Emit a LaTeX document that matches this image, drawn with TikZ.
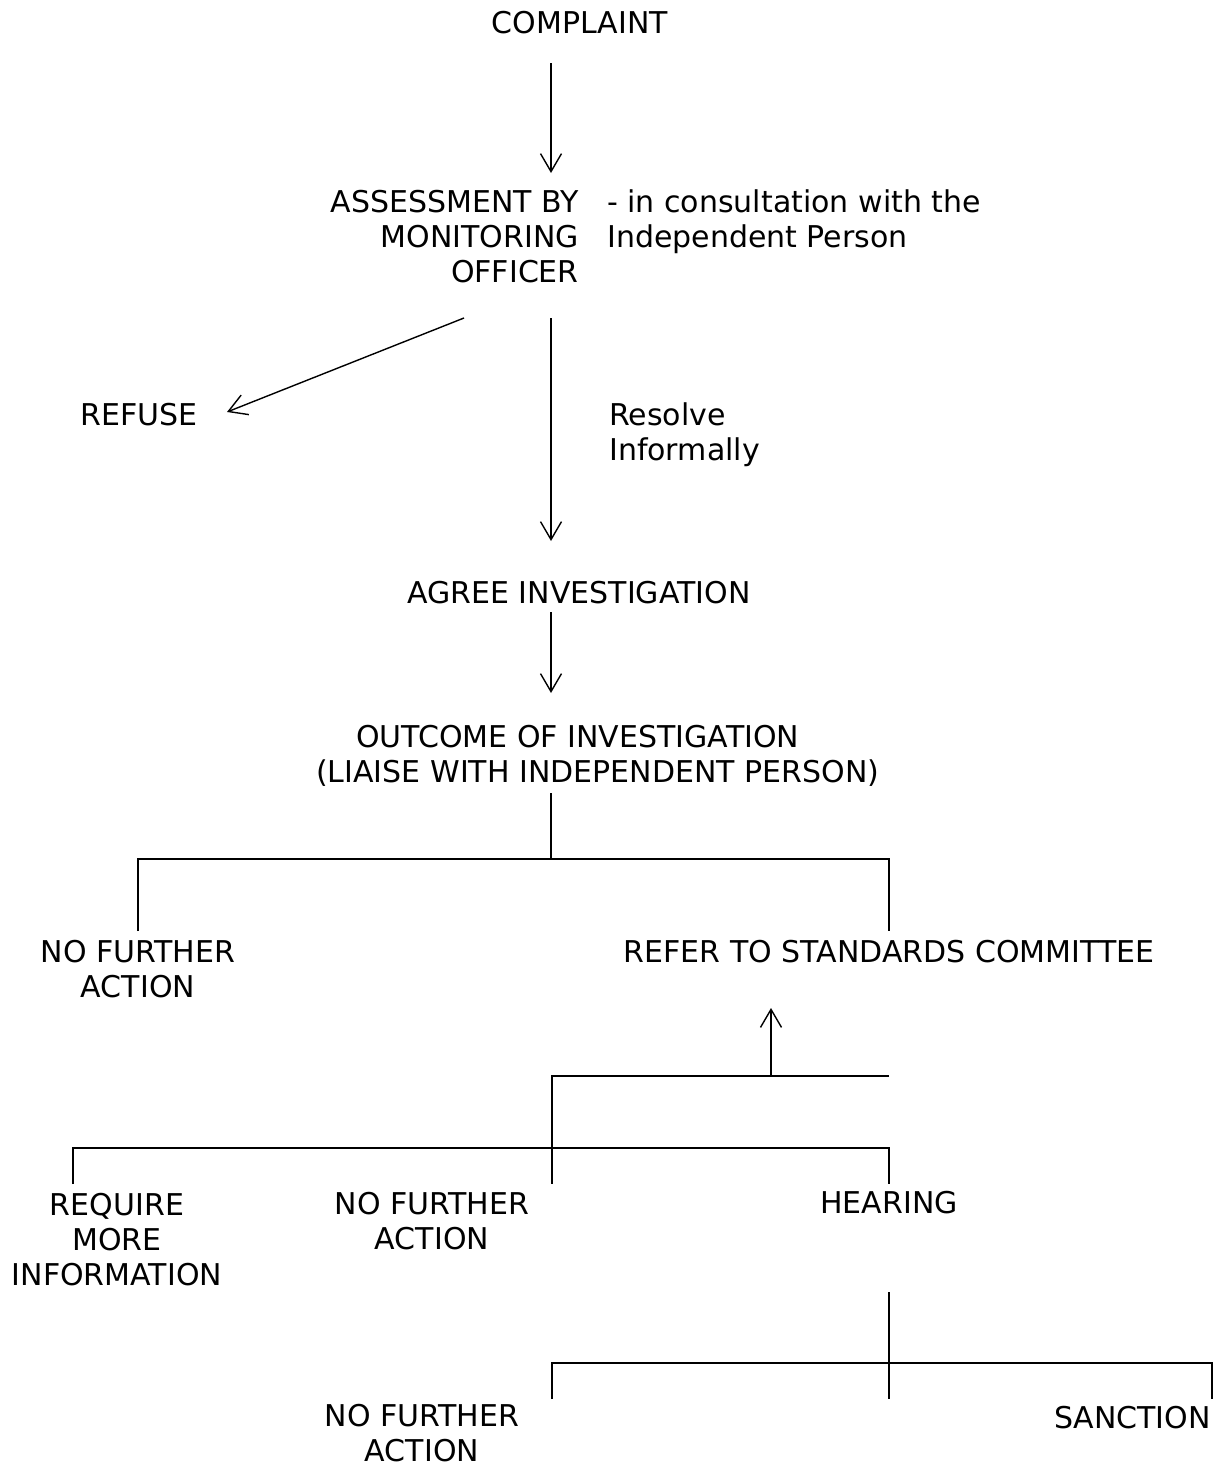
\documentclass[tikz,border=0pt]{standalone}
\usepackage{fontspec}
\setmainfont{DejaVu Sans}
\usepackage{tikz}
\usetikzlibrary{arrows.meta}
\tikzset{
    txt/.style={
        inner sep=0pt,
        anchor=base,
        font=\fontsize{30}{35}\selectfont
    },
    flow/.style={
        -{Straight Barb[length=18pt, width=21pt]},
        line width=1.4pt
    },
    branch/.style={
        line width=2.8pt
    }
}

\begin{document}
\begin{tikzpicture}[x=1pt, y=-1pt]
    \useasboundingbox (0,0) rectangle (1223,1467);

    % base of a node with several lines is its last line
    \node[txt] (complaint) at (580,33) {COMPLAINT};
    \node[txt, anchor=base east, align=right] (assess) at (579,282) {ASSESSMENT BY\\MONITORING\\OFFICER};
    \node[txt, anchor=base west, align=left] (consult) at (607,247) {- in consultation with the\\Independent Person};
    \node[txt] (refuse) at (139,425) {REFUSE};
    \node[txt, anchor=base west, align=left] (resolve) at (609,460) {Resolve\\Informally};
    \node[txt] (agree) at (579,603) {AGREE INVESTIGATION};
    \node[txt, anchor=base west, align=left] (outcome) at (316,782) {\hspace*{40pt}OUTCOME OF INVESTIGATION\\(LIAISE WITH INDEPENDENT PERSON)};
    \node[txt, align=center] (nfa1) at (138,997) {NO FURTHER\\ACTION};
    \node[txt] (refer) at (889,962) {REFER TO STANDARDS COMMITTEE};
    \node[txt, align=center] (require) at (117,1285) {REQUIRE\\MORE\\INFORMATION};
    \node[txt, align=center] (nfa2) at (432,1249) {NO FURTHER\\ACTION};
    \node[txt] (hearing) at (889,1213) {HEARING};
    \node[txt, align=center] (nfa3) at (422,1461) {NO FURTHER\\ACTION};
    \node[txt, anchor=base east] (sanction) at (1211,1428) {SANCTION};

    % ends of the connectors
    \coordinate (comp-out) at (551,63);
    \coordinate (assess-in) at (551,173);
    \coordinate (assess-out) at (551,318);
    \coordinate (assess-left) at (464,318);
    \coordinate (refuse-in) at (227,412);
    \coordinate (agree-in) at (551,541);
    \coordinate (agree-out) at (551,612);
    \coordinate (outcome-in) at (551,693);
    \coordinate (outcome-out) at (551,793);
    \coordinate (split1) at (551,859);
    \coordinate (nfa1-in) at (138,931);
    \coordinate (refer-in) at (889,931);
    \coordinate (refer-back) at (771,1008);
    \coordinate (rejoin) at (771,1076);
    \coordinate (sc-left) at (552,1076);
    \coordinate (sc-right) at (889,1076);
    \coordinate (split2) at (552,1148);
    \coordinate (require-in) at (73,1184);
    \coordinate (nfa2-in) at (552,1184);
    \coordinate (hearing-in) at (889,1184);
    \coordinate (hearing-out) at (889,1292);
    \coordinate (split3) at (889,1363);
    \coordinate (hearing-down) at (889,1399);
    \coordinate (nfa3-in) at (552,1399);
    \coordinate (sanction-in) at (1212,1399);

    \draw[flow] (comp-out) -- (assess-in);
    \draw[flow] (assess-left) -- (refuse-in);
    \draw[flow] (assess-out) -- (agree-in);
    \draw[flow] (agree-out) -- (outcome-in);

    \draw[branch] (outcome-out) -- (split1);
    \draw[branch] (nfa1-in) |- (split1) -| (refer-in);

    \draw[flow] (rejoin) -- (refer-back);
    \draw[branch] (sc-right) -- (sc-left) -- (nfa2-in);
    \draw[branch] (require-in) |- (split2) -| (hearing-in);

    \draw[branch] (hearing-out) -- (hearing-down);
    \draw[branch] (nfa3-in) |- (split3) -| (sanction-in);
\end{tikzpicture}
\end{document}
